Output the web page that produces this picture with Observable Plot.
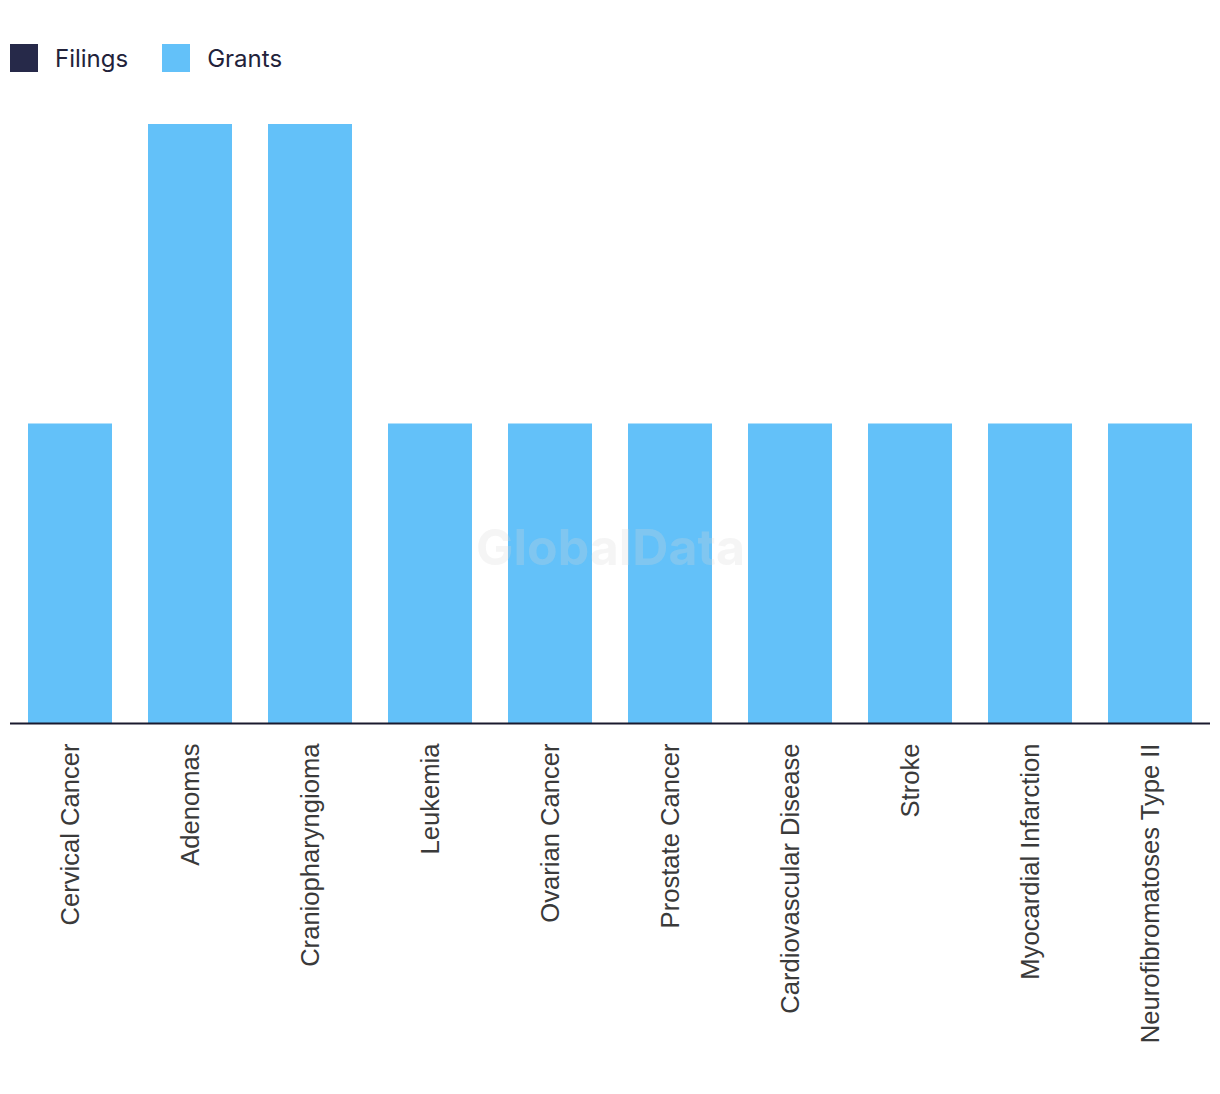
<!DOCTYPE html>
<html>
<head>
<meta charset="utf-8">
<script src="https://cdn.jsdelivr.net/npm/d3@7"></script>
<script src="https://cdn.jsdelivr.net/npm/@observablehq/plot@0.6"></script>
<style>
  body { margin: 0; background: #fff; width: 1220px; height: 1094px; overflow: hidden; }
  .legend { height: 100px; display: flex; align-items: center; padding-left: 10px; font-family: Inter, "Open Sans", sans-serif; font-size: 24px; color: #22223a; box-sizing: border-box; padding-top: 16px; }
  .item { display: flex; align-items: center; margin-right: 34px; }
  .sw { width: 28px; height: 28px; margin-right: 17px; }
</style>
</head>
<body>
<div class="legend" id="legend"></div>
<div id="chart"></div>
<script>
const categories = ["Cervical Cancer", "Adenomas", "Craniopharyngioma", "Leukemia", "Ovarian Cancer", "Prostate Cancer", "Cardiovascular Disease", "Stroke", "Myocardial Infarction", "Neurofibromatoses Type II"];
const filings = [0, 0, 0, 0, 0, 0, 0, 0, 0, 0];
const grants = [1, 2, 2, 1, 1, 1, 1, 1, 1, 1];
const seriesNames = ["Filings", "Grants"];
const seriesColors = ["#262949", "#63c1f9"];

const legend = document.getElementById("legend");
seriesNames.forEach((s, i) => {
  const it = document.createElement("div");
  it.className = "item";
  it.innerHTML = `<div class="sw" style="background:${seriesColors[i]}"></div><span>${s}</span>`;
  legend.appendChild(it);
});

const data = [];
categories.forEach((c, i) => {
  data.push({category: c, series: "Filings", value: filings[i]});
  data.push({category: c, series: "Grants", value: grants[i]});
});

const chart = Plot.plot({
  width: 1220,
  height: 994,
  marginTop: 24,
  marginBottom: 371,
  marginLeft: 10,
  marginRight: 10,
  style: {fontFamily: "'Liberation Sans', Arial, sans-serif", fontSize: "26px", color: "#333"},
  x: {domain: categories, paddingInner: 0.3, paddingOuter: 0.15, label: null},
  y: {domain: [0, 2], axis: null},
  color: {domain: seriesNames, range: seriesColors},
  marks: [
    Plot.barY(data, {x: "category", y: "value", fill: "series", order: seriesNames}),
    Plot.axisX({tickRotate: -90, tickSize: 0, tickPadding: 20, fontSize: 25.6, fill: "#3a3a3a", label: null}),
    Plot.ruleY([0], {stroke: "#1a1a2e", strokeWidth: 2}),
    Plot.text(["GlobalData"], {frameAnchor: "middle", dy: 125, fontSize: 50, fontWeight: "bold", fontFamily: "Inter, 'Liberation Sans', sans-serif", fill: "#d8d8d8", fillOpacity: 0.25})
  ]
});
document.getElementById("chart").appendChild(chart);
</script>
</body>
</html>
